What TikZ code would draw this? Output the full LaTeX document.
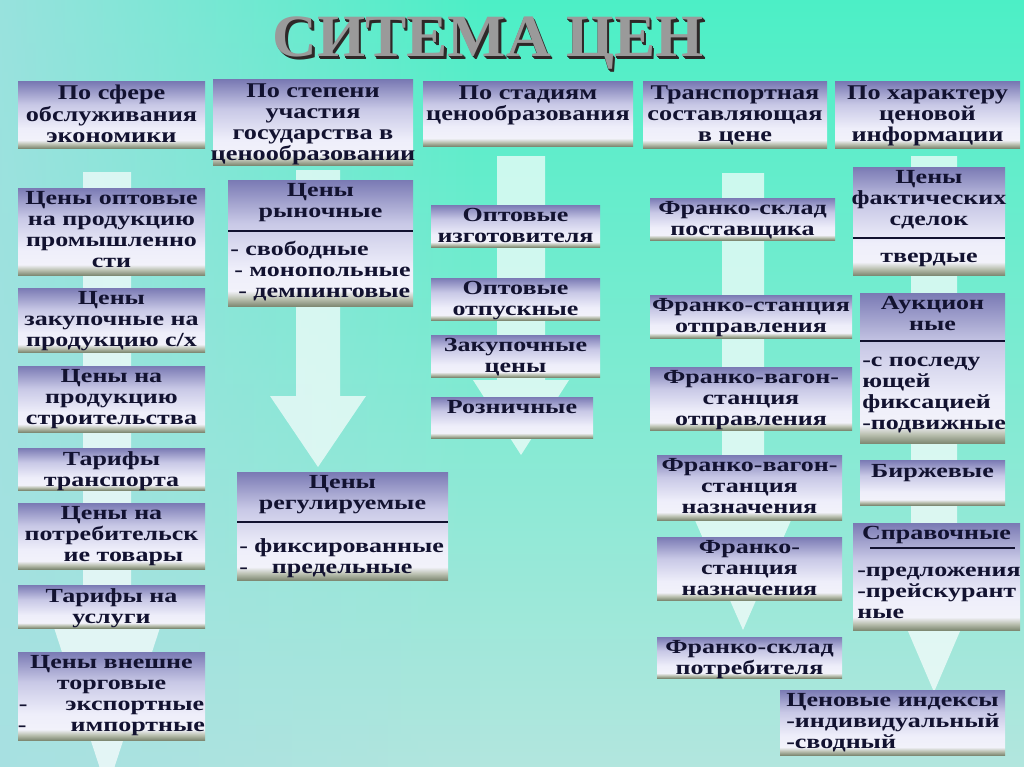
\documentclass[tikz,border=0pt]{standalone}
\usepackage{fontspec}
\usetikzlibrary{calc,fadings}
\newfontfamily\hdfont[FakeStretch=1.25]{Liberation Serif}
\newfontfamily\bdfont[FakeStretch=1.3]{Liberation Serif}
\newfontfamily\ttlfont[FakeStretch=1.03]{Liberation Serif}
\definecolor{bgtop}{HTML}{4CEFC6}
\definecolor{bgbot}{HTML}{B2E6DE}
\definecolor{bgleft}{HTML}{A6E0E2}
\definecolor{bxtop}{HTML}{7A7AB4}
\definecolor{bxmid}{HTML}{C8C8E6}
\definecolor{bxlight}{HTML}{EEEEFA}
\definecolor{bxlow}{HTML}{F2F2FA}
\definecolor{bxbot2}{HTML}{BCC2B2}
\definecolor{bxbot}{HTML}{808A74}
\definecolor{txtc}{HTML}{121230}
\definecolor{ttlface}{HTML}{9A9A9A}
\definecolor{ttlshade}{HTML}{2E2828}
\pgfdeclareverticalshading{boxshade}{100bp}{color(0bp)=(bxbot); color(25bp)=(bxbot); color(28bp)=(bxbot2); color(31bp)=(bxlow); color(40bp)=(bxlight); color(58bp)=(bxmid); color(75bp)=(bxtop); color(100bp)=(bxtop)}
\tikzset{
  boxsty/.style={shading=boxshade, draw=none, inner sep=0pt, outer sep=0pt, rectangle},
  hdtxt/.style={font=\hdfont\bfseries\fontsize{15.75}{15.9}\selectfont, text=txtc, align=center, inner sep=0pt},
  bdtxt/.style={font=\bdfont\bfseries\fontsize{15}{15.75}\selectfont, text=txtc, align=center, inner sep=0pt},
  bdleft/.style={bdtxt, align=left},
  divsty/.style={draw=txtc, line width=1.1pt},
  arrowsty/.style={fill=white, fill opacity=0.68, draw=none},
  ttlsty/.style={font=\ttlfont\bfseries\fontsize{45}{50}\selectfont, anchor=base, inner sep=0pt}
}
\newcommand\pbox[5]{%
  \node[boxsty, minimum width={(#4-#2)*0.75pt}, minimum height={(#5-#3)*0.75pt}, anchor=north west] (#1) at (#2,#3) {};}
\newcommand\bigarrow[7]{%
  \coordinate (#1s) at (#2,#3);
  \coordinate (#1t) at (#2,#5);
  \fill[arrowsty] (#2-#6,#3) -- (#2+#6,#3) -- (#2+#6,#4) -- (#2+#7,#4) -- (#1t) -- (#2-#7,#4) -- (#2-#6,#4) -- cycle;}
\begin{document}
\begin{tikzpicture}[x=0.75pt, y=-0.75pt]
\useasboundingbox (0,0) rectangle (1024,767);
% background
\shade[top color=bgtop, bottom color=bgbot] (0,0) rectangle (1024,767);
\fill[bgleft, path fading=east, fill opacity=0.85] (0,0) rectangle (480,767);
% title (3D extrusion, then face)
\foreach \d in {1,2,3}{
  \node[ttlsty, text=ttlshade] at (488+0.9*\d,57+0.9*\d) {СИТЕМА ЦЕН};
}
\node[ttlsty, text=ttlface] (title) at (488,57) {СИТЕМА ЦЕН};
% big arrows
\bigarrow{a1}{107}{172}{600}{790}{24}{62}
\bigarrow{a2}{318}{170}{396}{467}{22}{48}
\bigarrow{a3}{521}{156}{380}{455}{24}{48}
\bigarrow{a4}{743}{173}{470}{630}{21}{70}
\bigarrow{a5}{934}{156}{575}{692}{23}{50}
% headers
\pbox{h1}{18}{82}{205}{148}
\pbox{h2}{213}{80}{413}{165}
\pbox{h3}{423}{82}{633}{146}
\pbox{h4}{643}{82}{827}{148}
\pbox{h5}{835}{82}{1020}{148}
\node[hdtxt, anchor=north] (h1t) at ($(h1.north)+(0,3)$) {По сфере\\обслуживания\\экономики};
\node[hdtxt, anchor=north] (h2t) at ($(h2.north)+(0,3)$) {По степени\\участия\\государства в\\ценообразовании};
\node[hdtxt, anchor=north] (h3t) at ($(h3.north)+(0,3)$) {По стадиям\\ценообразования};
\node[hdtxt, anchor=north] (h4t) at ($(h4.north)+(0,3)$) {Транспортная\\составляющая\\в цене};
\node[hdtxt, anchor=north] (h5t) at ($(h5.north)+(0,3)$) {По характеру\\ценовой\\информации};
% column 1
\pbox{b1}{18}{188}{205}{275}
\pbox{b2}{18}{288}{205}{352}
\pbox{b3}{18}{366}{205}{432}
\pbox{b4}{18}{448}{205}{490}
\pbox{b5}{18}{503}{205}{569}
\pbox{b6}{18}{585}{205}{628}
\pbox{b7}{18}{652}{205}{740}
\node[bdtxt, anchor=north] (b1t) at ($(b1.north)+(0,3)$) {Цены оптовые\\на продукцию\\промышленно\\сти};
\node[bdtxt, anchor=north] (b2t) at ($(b2.north)+(0,3)$) {Цены\\закупочные на\\продукцию с/х};
\node[bdtxt, anchor=north] (b3t) at ($(b3.north)+(0,3)$) {Цены на\\продукцию\\строительства};
\node[bdtxt, anchor=north] (b4t) at ($(b4.north)+(0,3)$) {Тарифы\\транспорта};
\node[bdtxt, anchor=north] (b5t) at ($(b5.north)+(0,3)$) {Цены на\\потребительск\\\hspace*{1.2em}ие товары};
\node[bdtxt, anchor=north] (b6t) at ($(b6.north)+(0,3)$) {Тарифы на\\услуги};
\node[bdtxt, anchor=north] (b7t) at ($(b7.north)+(0,3)$) {Цены внешне\\торговые\\-\hspace{1.9em}экспортные\\-\hspace{2.2em}импортные};
% column 2
\pbox{c1}{228}{180}{413}{306}
\node[bdtxt, anchor=north] (c1t) at ($(c1.north)+(0,3)$) {Цены\\рыночные};
\draw[divsty] ($(c1.north west)+(0,51)$) -- ($(c1.north east)+(0,51)$);
\node[bdleft, anchor=north west] (c1b) at ($(c1.north west)+(2,61)$) {- свободные\\\hspace*{3pt}- монопольные\\\hspace*{6pt}- демпинговые};
\pbox{c2}{237}{472}{448}{580}
\node[bdtxt, anchor=north] (c2t) at ($(c2.north)+(0,3)$) {Цены\\регулируемые};
\draw[divsty] ($(c2.north west)+(0,50)$) -- ($(c2.north east)+(0,50)$);
\node[bdleft, anchor=north west] (c2b) at ($(c2.north west)+(2,66)$) {- фиксированные\\-\hspace{1.2em}предельные};
% column 3
\pbox{d1}{431}{205}{600}{247}
\pbox{d2}{431}{278}{600}{320}
\pbox{d3}{431}{335}{600}{377}
\pbox{d4}{431}{397}{593}{438}
\node[bdtxt, anchor=north] (d1t) at ($(d1.north)+(0,3)$) {Оптовые\\изготовителя};
\node[bdtxt, anchor=north] (d2t) at ($(d2.north)+(0,3)$) {Оптовые\\отпускные};
\node[bdtxt, anchor=north] (d3t) at ($(d3.north)+(0,3)$) {Закупочные\\цены};
\node[bdtxt, anchor=north] (d4t) at ($(d4.north)+(0,3)$) {Розничные};
% column 4
\pbox{e1}{650}{198}{835}{240}
\pbox{e2}{650}{295}{852}{338}
\pbox{e3}{650}{367}{852}{430}
\pbox{e4}{657}{455}{842}{520}
\pbox{e5}{657}{537}{842}{600}
\pbox{e6}{657}{637}{842}{678}
\node[bdtxt, anchor=north] (e1t) at ($(e1.north)+(0,3)$) {Франко-склад\\поставщика};
\node[bdtxt, anchor=north] (e2t) at ($(e2.north)+(0,3)$) {Франко-станция\\отправления};
\node[bdtxt, anchor=north] (e3t) at ($(e3.north)+(0,3)$) {Франко-вагон-\\станция\\отправления};
\node[bdtxt, anchor=north] (e4t) at ($(e4.north)+(0,3)$) {Франко-вагон-\\станция\\назначения};
\node[bdtxt, anchor=north] (e5t) at ($(e5.north)+(0,3)$) {Франко-\\станция\\назначения};
\node[bdtxt, anchor=north] (e6t) at ($(e6.north)+(0,3)$) {Франко-склад\\потребителя};
% column 5
\pbox{f1}{853}{167}{1005}{275}
\node[bdtxt, anchor=north] (f1t) at ($(f1.north)+(0,3)$) {Цены\\фактических\\сделок};
\draw[divsty] ($(f1.north west)+(0,71)$) -- ($(f1.north east)+(0,71)$);
\node[bdtxt, anchor=north] (f1b) at ($(f1.north)+(0,86)$) {твердые};
\pbox{f2}{860}{293}{1005}{443}
\node[bdtxt, anchor=north] (f2t) at ($(f2.north)+(0,3)$) {Аукцион\\ные};
\draw[divsty] ($(f2.north west)+(0,48)$) -- ($(f2.north east)+(0,48)$);
\node[bdleft, anchor=north west] (f2b) at ($(f2.north west)+(2,64)$) {-с последу\\ющей\\фиксацией\\-подвижные};
\pbox{f3}{860}{460}{1005}{505}
\node[bdtxt, anchor=north] (f3t) at ($(f3.north)+(0,4)$) {Биржевые};
\pbox{f4}{853}{523}{1020}{630}
\node[bdtxt, anchor=north] (f4t) at ($(f4.north)+(0,3)$) {Справочные};
\draw[divsty] ($(f4.north west)+(17,25)$) -- ($(f4.north east)+(-5,25)$);
\node[bdleft, anchor=north west] (f4b) at ($(f4.north west)+(4,44)$) {-предложения\\-прейскурант\\ные};
\pbox{f5}{780}{690}{1005}{755}
\node[bdleft, anchor=north west] (f5t) at ($(f5.north west)+(6,3)$) {Ценовые индексы\\-индивидуальный\\-сводный};
\end{tikzpicture}
\end{document}
